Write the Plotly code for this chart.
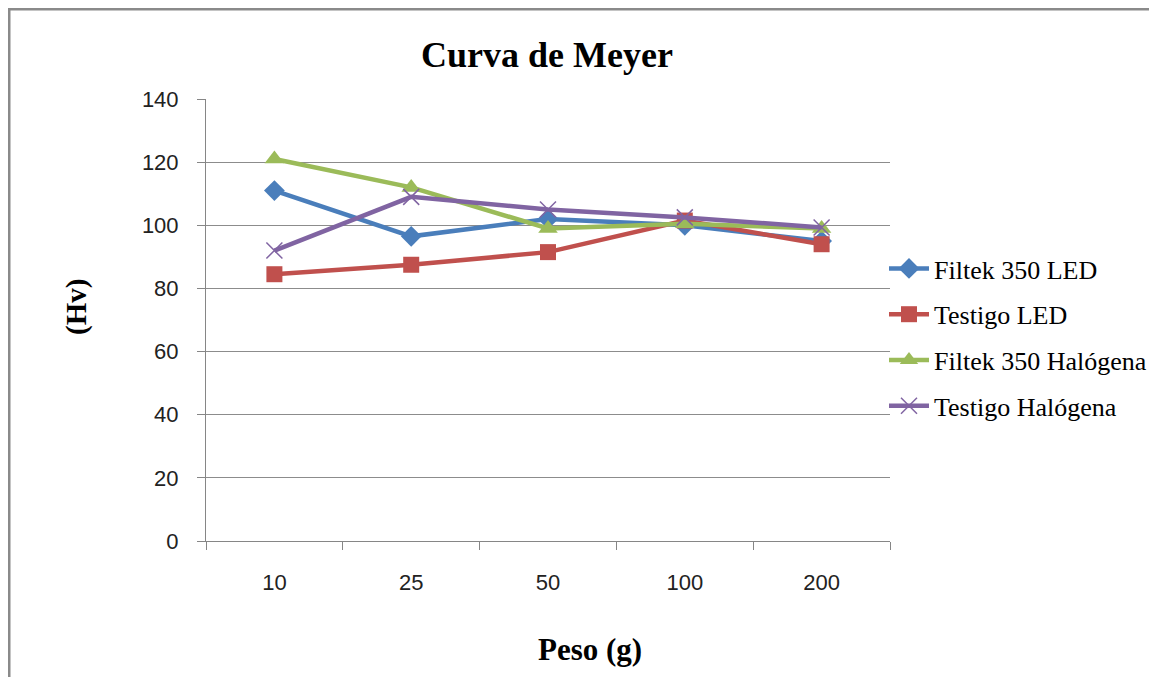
import plotly.graph_objects as go

categories = ["10", "25", "50", "100", "200"]
filtek_led = [111, 96.5, 102, 100, 95]
testigo_led = [84.5, 87.5, 91.5, 101.5, 94]
filtek_hal = [121, 112, 99, 100.5, 99]
testigo_hal = [92, 109, 105, 102.5, 99.3]
series_names = ["Filtek 350 LED", "Testigo LED", "Filtek 350 Halógena", "Testigo Halógena"]

OFF = 8  # browser body margin
W, H = 1157 - OFF, 677 - OFF
L, R, T, B = 206 - OFF, 890 - OFF, 99 - OFF, 541 - OFF

def px(x):
    return (x - OFF - L) / (R - L)

def py(y):
    return (B - (y - OFF)) / (B - T)

fig = go.Figure()
specs = [
    (filtek_led, "#4A7EBB", dict(symbol="diamond", size=16)),
    (testigo_led, "#C0504D", dict(symbol="square", size=16)),
    (filtek_hal, "#9BBB59", dict(symbol="triangle-up", size=17)),
    (testigo_hal, "#8064A2", dict(symbol="x-thin", size=16, line=dict(width=1.5, color="#8064A2"))),
]
for name, (vals, col, mk) in zip(series_names, specs):
    fig.add_trace(go.Scatter(
        x=categories, y=vals, name=name, mode="lines+markers",
        line=dict(color=col, width=4.5),
        marker=dict(color=col, **mk),
        legendgroup=name,
    ))

serif = "Liberation Serif, Times New Roman, serif"
sans = "Liberation Sans, Arial, sans-serif"

fig.update_layout(
    width=W, height=H,
    margin=dict(l=L, r=W - R, t=T, b=H - B, autoexpand=False),
    paper_bgcolor="white", plot_bgcolor="white",
    showlegend=True,
    legend=dict(
        x=px(884), y=py(245), xanchor="left", yanchor="top",
        font=dict(family=serif, size=26, color="black"),
        tracegroupgap=9, itemwidth=40,
        bgcolor="rgba(0,0,0,0)",
    ),
    xaxis=dict(
        type="category", range=[-0.5, 4.5],
        showgrid=False, showline=True, linecolor="#868686", linewidth=1,
        ticks="outside", tickson="boundaries", ticklen=8, tickcolor="#868686",
        tickfont=dict(family=sans, size=22, color="#222"),
        ticklabelstandoff=22,
    ),
    yaxis=dict(
        range=[0, 140], dtick=20, showgrid=True, gridcolor="#8c8c8c", gridwidth=1,
        showline=True, linecolor="#868686", linewidth=1,
        ticks="outside", ticklen=8, tickcolor="#868686",
        tickfont=dict(family=sans, size=22, color="#222"),
        ticklabelstandoff=14,
        zeroline=False,
    ),
    annotations=[
        dict(text="<b>Curva de Meyer</b>", x=px(547), y=py(55), xref="paper", yref="paper",
             xanchor="center", yanchor="middle",
             showarrow=False, font=dict(family=serif, size=36, color="black")),
        dict(text="<b>Peso (g)</b>", x=px(590), y=py(649), xref="paper", yref="paper",
             xanchor="center", yanchor="middle",
             showarrow=False, font=dict(family=serif, size=31, color="black")),
        dict(text="<b>(Hv)</b>", x=px(76), y=py(307), xref="paper", yref="paper",
             xanchor="center", yanchor="middle",
             showarrow=False, textangle=-90, font=dict(family=serif, size=29, color="black")),
    ],
    shapes=[
        dict(type="line", xref="paper", yref="paper", x0=px(9), x1=px(9), y0=py(9), y1=py(700),
             line=dict(color="#8a8a8a", width=3)),
        dict(type="line", xref="paper", yref="paper", x0=px(8), x1=px(1170), y0=py(9), y1=py(9),
             line=dict(color="#8a8a8a", width=3)),
    ],
)

fig.write_html("out.html", config={"displayModeBar": False})
